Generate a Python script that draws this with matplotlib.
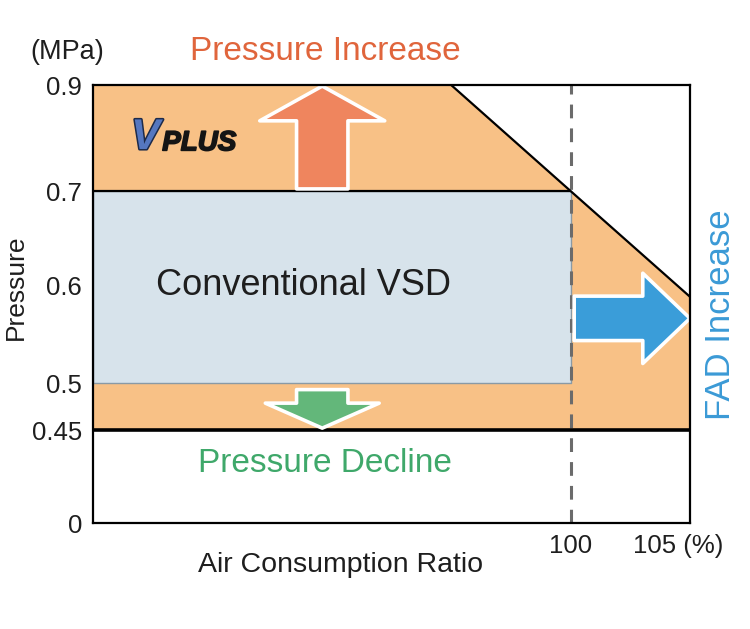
import numpy as np
import matplotlib
matplotlib.use('Agg')
import matplotlib.pyplot as plt
import matplotlib.patheffects as pe
from matplotlib.transforms import ScaledTranslation

plt.rcParams['font.family'] = ['Liberation Sans', 'DejaVu Sans']

### ~~~~~~~~~~~~~~~~~~~~~~~~~~~~~~~~~~~~~~~ ###
# data read off the schematic
x_min, x_max = 80, 105
y_ticks      = [0, 0.45, 0.5, 0.6, 0.7, 0.9]
y_tick_text  = ['0', '0.45', '0.5', '0.6', '0.7', '0.9']
x_ticks      = [100, 105]
x_tick_text  = ['100', '105 (%)']

# V PLUS envelope (upper boundary), lower bound 0.45
vplus_x   = [80, 95, 100, 105]
vplus_top = [0.9, 0.9, 0.7, 0.588]
vplus_low = 0.45

# conventional VSD box
vsd_x = [80, 100]
vsd_low, vsd_high = 0.5, 0.7

# arrows: (start, end)
up_arrow    = ((89.6, 0.704), (89.6, 0.898))
down_arrow  = ((89.6, 0.493), (89.6, 0.452))
right_arrow = ((100.15, 0.566), (105, 0.566))

# non-linear pressure axis: spacing of the printed ticks
y_units = [0, 93, 140, 238, 332, 438]

def fwd(v):
    return np.interp(v, y_ticks, y_units)

def inv(u):
    return np.interp(u, y_units, y_ticks)

### ~~~~~~~~~~~~~~~~~~~~~~~~~~~~~~~~~~~~~~~ ###
orange  = '#f8c186'
blue_bg = '#d7e3eb'
ink     = '#1e1e1e'

fig = plt.figure(figsize=(7.5, 6.29), dpi=100)
ax  = fig.add_axes([0.124, 0.1685, 0.796, 0.6963])
ax.set_yscale('function', functions=(fwd, inv))
ax.set_xlim(x_min, x_max)
ax.set_ylim(0, 0.9)

ax.fill_between(vplus_x, vplus_low, vplus_top, color=orange, lw=0, zorder=1)
ax.fill_between(vsd_x, vsd_low, vsd_high, facecolor=blue_bg, edgecolor='#8a9aa5', lw=1, zorder=2)
ax.plot(vplus_x[1:], vplus_top[1:], color='black', lw=1.6, zorder=4)
ax.hlines(vsd_high, vsd_x[0], vsd_x[1], color='black', lw=1.6, zorder=4)
ax.hlines(vplus_low, x_min, x_max, color='black', lw=2.6, zorder=4)
ax.axvline(100, color='#6b6b6b', lw=2.2, dashes=(4.5, 3.3), zorder=3)

def arrow(pts, fc, hl, hw, tw):
    ax.annotate('', xy=pts[1], xytext=pts[0],
                arrowprops=dict(arrowstyle='simple,head_length=%s,head_width=%s,tail_width=%s' % (hl, hw, tw),
                                fc=fc, ec='white', lw=2.6, mutation_scale=10,
                                shrinkA=0, shrinkB=0),
                zorder=5)

arrow(up_arrow,    '#ef855e', 2.5, 9.0, 3.7)
arrow(down_arrow,  '#63b77a', 1.8, 8.2, 3.7)
arrow(right_arrow, '#3a9dd9', 3.4, 6.5, 3.2)

for s in ax.spines.values():
    s.set_color('black')
    s.set_linewidth(1.6)
    s.set_zorder(6)

ax.set_yticks(y_ticks)
ax.set_yticklabels(y_tick_text)
ax.set_xticks(x_ticks)
ax.set_xticklabels(x_tick_text)
ax.tick_params(axis='y', length=0, pad=8, labelsize=18.5, colors=ink)
ax.tick_params(axis='x', length=0, pad=8, labelsize=18.5, colors=ink)
ax.get_xticklabels()[1].set_transform(ax.get_xticklabels()[1].get_transform()
                                      + ScaledTranslation(-8.5/72, 0, fig.dpi_scale_trans))

ax.text(88.8, 0.6, 'Conventional VSD', fontsize=26, ha='center', va='center', color=ink, zorder=6)
ax.text(89.7, 0.29, 'Pressure Decline', fontsize=24, ha='center', va='center', color='#3fa86a')

# V PLUS logo
ax.text(81.6, 0.8, 'V', fontsize=31, style='italic', weight='bold', color='#5577c0',
        ha='left', va='center', zorder=6,
        path_effects=[pe.withStroke(linewidth=2.2, foreground='#1c2a4a')])
ax.text(82.9, 0.79, 'PLUS', fontsize=20, style='italic', weight='bold', color='#151515',
        ha='left', va='center', zorder=6,
        path_effects=[pe.withStroke(linewidth=1.2, foreground='#151515')])

fig.text(325/750, 1 - 52/629, 'Pressure Increase', fontsize=24, ha='center', va='center', color='#e0653c')
fig.text(720/750, 1 - 315/629, 'FAD Increase', fontsize=25, rotation=90, ha='center', va='center', color='#3b9ad6')
fig.text(67/750, 1 - 52/629, '(MPa)', fontsize=19.5, ha='center', va='center', color=ink)
fig.text(16/750, 1 - 287/629, 'Pressure', fontsize=19, rotation=90, ha='center', va='center', color=ink)
fig.text(341/750, 1 - 565/629, 'Air Consumption Ratio', fontsize=20.5, ha='center', va='center', color=ink)

fig.savefig('out.png', dpi=100)
